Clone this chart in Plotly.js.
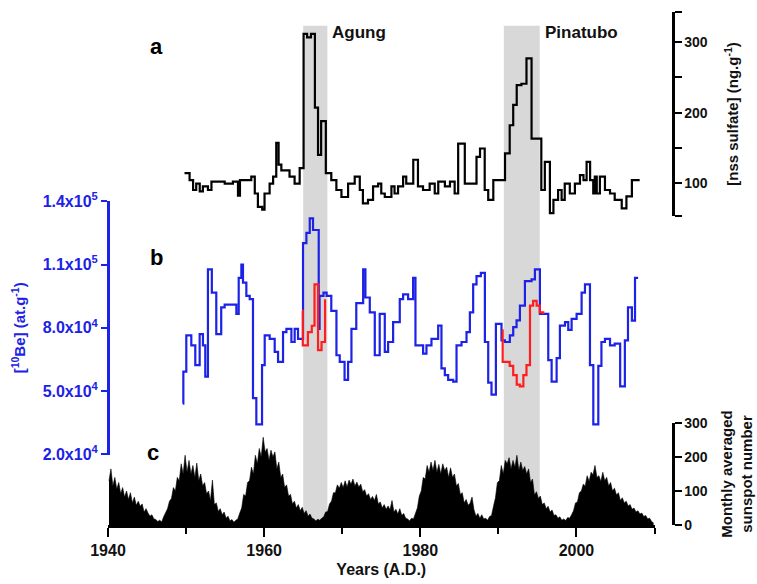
<!DOCTYPE html>
<html>
<head>
<meta charset="utf-8">
<script src="https://cdn.plot.ly/plotly-3.0.1.min.js"></script>
<style>html,body{margin:0;padding:0;background:#fff;}#chart{width:757px;height:584px;}</style>
</head>
<body>
<div id="chart"></div>
<script>
// ---- panel a: nss sulfate (ng/g), step series (start year of each step) ----
const sulfYear = [1949.8,1950.45,1950.9,1951.3,1951.75,1952.15,1952.8,1953.25,1954.95,1956.0,1956.65,1956.9,1957.3,1958.35,1958.8,1959.2,1959.75,1960.05,1960.7,1961.15,1961.55,1961.85,1962.2,1963.25,1963.9,1964.55,1965.05,1965.5,1966.0,1966.5,1966.9,1967.3,1967.9,1968.6,1969.25,1969.9,1970.75,1971.6,1972.25,1972.65,1973.3,1973.95,1974.6,1975.0,1975.45,1976.3,1976.7,1977.15,1977.8,1978.2,1979.1,1979.7,1980.35,1981.2,1981.85,1982.3,1983.15,1983.8,1984.4,1984.85,1985.7,1987.2,1987.65,1988.25,1988.7,1989.35,1990.85,1991.45,1991.9,1992.35,1992.95,1993.6,1994.25,1995.5,1995.95,1996.6,1997.05,1997.65,1998.1,1998.5,1999.15,1999.8,2000.45,2000.9,2001.3,2001.75,2002.15,2002.35,2002.6,2003.0,2003.65,2004.3,2004.9,2005.8,2006.4,2007.1,2008.1];
const sulfVal = [114,104,90,99,88,95,90,102,99,102,82,104,104,109,85,66,62,85,99,109,157,126,118,109,99,121,312,307,312,207,140,188,114,104,90,80,99,109,90,71,76,95,99,85,80,95,85,95,109,99,133,95,90,99,85,102,95,102,85,156,99,137,149,90,76,104,142,182,211,239,241,277,163,90,130,57,76,90,76,99,85,99,111,104,130,104,85,109,85,109,90,85,76,64,81,104,104];

// ---- panel b: 10Be (at/g), blue step series ----
const beYear = [1949.6,1949.65,1950.03,1950.67,1951.18,1951.74,1952.16,1952.46,1952.8,1953.3,1953.87,1954.5,1954.94,1956.44,1956.74,1957.08,1957.29,1957.72,1958.15,1958.57,1959.0,1959.73,1960.07,1960.71,1961.35,1961.78,1962.42,1962.85,1963.49,1963.91,1964.34,1964.98,1965.41,1965.84,1966.26,1966.99,1967.1,1967.6,1968.0,1968.6,1969.26,1969.68,1970.3,1970.75,1971.18,1971.8,1972.68,1972.97,1973.53,1974.17,1974.8,1975.45,1975.88,1976.52,1977.37,1977.8,1978.44,1979.08,1979.38,1980.36,1980.79,1981.43,1982.29,1982.71,1983.14,1983.57,1984.21,1984.64,1985.28,1985.92,1986.35,1986.77,1987.2,1987.76,1988.27,1988.7,1989.12,1989.68,1990.4,1990.83,1991.47,1991.9,1992.33,1992.76,1993.4,1994.25,1994.68,1995.32,1996.39,1996.82,1997.46,1997.88,1998.53,1998.95,1999.38,2000.02,2000.66,2001.09,2001.73,2002.16,2002.8,2003.2,2003.65,2004.3,2004.9,2005.6,2006.2,2006.6,2007.1,2007.5,2007.9];
const beVal = [44000,59200,76400,71700,62300,77000,71700,56900,107700,96700,77000,89700,91000,86600,103700,110000,101400,95200,93600,46700,34200,62300,76400,74800,68600,63900,78000,79500,73300,79500,74800,120200,125000,131900,126400,79500,95200,96700,95200,88000,67000,63900,55300,63900,79500,91700,107700,94400,87300,67000,86600,68600,73300,82700,93600,95900,93600,103700,71700,67800,71700,74800,81100,60800,57600,55300,54500,71700,73300,78000,87300,100600,104500,106100,73300,54000,48300,81900,74100,73300,76400,80300,83500,90500,102200,103000,107700,86600,64700,54500,65600,81100,82700,79000,84300,86600,96700,100600,62300,34200,62000,73300,74800,71700,72500,52200,74100,89700,83400,103700,103700];

// ---- panel b: red segments (post-eruption) ----
const redAgungYear = [1964.85,1964.95,1965.6,1966.1,1966.45,1966.9,1967.35,1967.8];
const redAgungVal = [88000,71700,78000,81000,100600,69400,73300,93600];
const redPinaYear = [1990.5,1990.55,1991.45,1991.9,1992.35,1992.75,1993.2,1993.6,1994.05,1994.45,1994.9,1995.3,1995.75];
const redPinaVal = [78800,63900,62000,57600,53100,52200,57600,62300,90500,92800,90500,87300,86600];

// ---- panel c: sunspot number, quarterly values from 1940.0 ----
const sunStart = 1940;
const sunspot = [
130,165,115,140, 105,125,92,110, 82,100,75,95, 65,82,58,70, 55,62,38,48,
35,26,30,18, 16,10,14,9, 24,35,48,70, 78,110,100,140, 130,180,150,205,
155,190,150,175, 140,182,130,150, 115,125,92,100, 72,132,60,65, 40,48,30,38,
20,26,12,16, 8,14,18,35, 50,90,85,125, 130,170,150,205, 180,225,200,258,
215,225,190,220, 200,215,165,185, 140,150,110,118, 85,90,62,70, 50,60,42,52,
34,42,26,32, 20,18,12,17, 14,20,24,38, 40,62,70,95, 95,118,108,125,
110,130,112,132, 120,135,115,126, 112,120,98,104, 85,92,75,84, 72,90,62,68,
50,60,46,56, 45,72,38,46, 32,48,28,34, 20,18,12,20, 18,34,50,85,
100,140,135,175, 155,185,160,190, 155,178,150,180, 160,170,140,168, 140,150,115,122,
90,95,65,75, 58,64,82,45, 26,34,20,30, 18,20,14,25, 28,55,80,125,
130,175,150,190, 180,198,165,190, 170,205,160,185, 160,172,150,165, 125,135,88,98,
78,85,60,65, 48,55,38,44, 28,30,20,24, 14,18,13,22, 20,30,42,65,
68,95,100,120, 115,145,128,155, 148,175,140,145, 128,155,130,140, 115,125,100,108,
88,95,72,80, 65,70,56,60, 46,50,38,42, 32,35,25,28, 18,20,10,6];
const sunYear = sunspot.map((_, i) => sunStart + 0.125 + i * 0.25);

// ---- eruptions (shaded periods) ----
const eruptNames = ['Agung', 'Pinatubo'];
const eruptStart = [1965.0, 1990.7];
const eruptEnd = [1968.1, 1995.3];
const eruptLabelX = [1972.2, 2000.7];

// ---- panel letters ----
const panelLetters = ['a', 'b', 'c'];

// ---- ticks ----
const xTickVals = [1940,1960,1980,2000];
const xTickText = ['1940','1960','1980','2000'];
const xMinorVals = [1950,1970,1990,2010];
const sulfTickVals = [100,200,300];
const sulfTickText = ['100','200','300'];
const sulfMinorVals = [53.4,150,250,342.6];
const beTickVals = [20000,50000,80000,110000,140000];
const beTickText = ['2.0x10<sup>4</sup>','5.0x10<sup>4</sup>','8.0x10<sup>4</sup>','1.1x10<sup>5</sup>','1.4x10<sup>5</sup>'];
const sunTickVals = [0,100,200,300];
const sunTickText = ['0','100','200','300'];

const FAM = '"Liberation Sans", Arial, sans-serif';
const BLUE = '#1c22e6';
const RED = '#ff1e1e';

const traces = [
  {x: sunYear, y: sunspot, type: 'scatter', mode: 'lines', fill: 'tozeroy',
   line: {color: '#000', width: 0.6}, fillcolor: '#000', xaxis: 'x', yaxis: 'y3', hoverinfo: 'skip'},
  {x: sulfYear, y: sulfVal, type: 'scatter', mode: 'lines', line: {color: '#000', width: 2.2, shape: 'hv'},
   xaxis: 'x', yaxis: 'y'},
  {x: beYear, y: beVal, type: 'scatter', mode: 'lines', line: {color: BLUE, width: 2.2, shape: 'hv'},
   xaxis: 'x', yaxis: 'y2'},
  {x: redAgungYear, y: redAgungVal, type: 'scatter', mode: 'lines', line: {color: RED, width: 2.2, shape: 'hv'},
   xaxis: 'x', yaxis: 'y2'},
  {x: redPinaYear, y: redPinaVal, type: 'scatter', mode: 'lines', line: {color: RED, width: 2.2, shape: 'hv'},
   xaxis: 'x', yaxis: 'y2'}
];

const shapes = eruptNames.map((n, i) => ({
  type: 'rect', xref: 'x', yref: 'paper', x0: eruptStart[i], x1: eruptEnd[i], y0: 0, y1: 0.96,
  fillcolor: '#d8d8d8', line: {width: 0}, layer: 'below'
}));

const letterPos = [[0.085, 0.921], [0.0867, 0.515], [0.0796, 0.140]];
const annotations = eruptNames.map((n, i) => ({
  text: n, xref: 'x', yref: 'paper', x: eruptLabelX[i], y: 0.948, xanchor: 'center', yanchor: 'middle', showarrow: false,
  font: {family: FAM, size: 17, color: '#111', weight: 'bold'}
})).concat(panelLetters.map((t, i) => ({
  text: t, xref: 'paper', yref: 'paper', x: letterPos[i][0], y: letterPos[i][1], xanchor: 'center', yanchor: 'middle',
  showarrow: false, font: {family: FAM, size: 22, color: '#000', weight: 'bold'}
})));

const layout = {
  width: 757, height: 584,
  margin: {l: 108, r: 84, t: 5, b: 59},
  paper_bgcolor: '#fff', plot_bgcolor: 'rgba(0,0,0,0)',
  showlegend: false,
  font: {family: FAM, color: '#000'},
  xaxis: {
    domain: [0, 0.9673], range: [1940, 2010], anchor: 'y3',
    showgrid: false, zeroline: false, showline: true, linecolor: '#000', linewidth: 2.5,
    ticks: 'outside', ticklen: 9, tickwidth: 2, tickcolor: '#000',
    tickmode: 'array', tickvals: xTickVals, ticktext: xTickText,
    minor: {tickmode: 'array', tickvals: xMinorVals, ticks: 'outside', ticklen: 6, tickwidth: 2, tickcolor: '#000', showgrid: false},
    tickfont: {family: FAM, size: 16, color: '#111', weight: 'bold'},
    title: {text: 'Years (A.D.)', font: {family: FAM, size: 16, color: '#111', weight: 'bold'}, standoff: 6}
  },
  yaxis: {
    domain: [0.5942, 0.9865], range: [53, 343], anchor: 'free', position: 1, side: 'right',
    showgrid: false, zeroline: false, showline: true, linecolor: '#000', linewidth: 2.5,
    ticks: 'outside', ticklen: 7, tickwidth: 2, tickcolor: '#000',
    tickmode: 'array', tickvals: sulfTickVals, ticktext: sulfTickText,
    minor: {tickmode: 'array', tickvals: sulfMinorVals, ticks: 'outside', ticklen: 7, tickwidth: 2, tickcolor: '#000', showgrid: false},
    tickfont: {family: FAM, size: 14, color: '#111', weight: 'bold'},
    title: {text: '[nss sulfate] (ng.g<sup>-1</sup>)', font: {family: FAM, size: 15, color: '#111', weight: 'bold'}, standoff: 20}
  },
  yaxis2: {
    domain: [0.1346, 0.6237], range: [19700, 140300], anchor: 'free', position: 0, side: 'left',
    showgrid: false, zeroline: false, showline: true, linecolor: BLUE, linewidth: 2.5,
    ticks: 'outside', ticklen: 6, tickwidth: 2, tickcolor: BLUE,
    tickmode: 'array', tickvals: beTickVals, ticktext: beTickText,
    tickfont: {family: FAM, size: 16, color: BLUE, weight: 'bold'},
    title: {text: '[<sup>10</sup>Be] (at.g<sup>-1</sup>)', font: {family: FAM, size: 15, color: BLUE, weight: 'bold'}, standoff: 12}
  },
  yaxis3: {
    domain: [0, 0.1962], range: [0, 300], anchor: 'free', position: 1, side: 'right',
    showgrid: false, zeroline: false, showline: true, linecolor: '#000', linewidth: 2.5,
    ticks: 'outside', ticklen: 7, tickwidth: 2, tickcolor: '#000',
    tickmode: 'array', tickvals: sunTickVals, ticktext: sunTickText,
    tickfont: {family: FAM, size: 14, color: '#111', weight: 'bold'},
    title: {text: 'Monthly averaged<br>sunspot number', font: {family: FAM, size: 15, color: '#111', weight: 'bold'}, standoff: 14}
  },
  shapes: shapes,
  annotations: annotations
};

Plotly.newPlot('chart', traces, layout, {staticPlot: true, displayModeBar: false});
</script>
</body>
</html>
